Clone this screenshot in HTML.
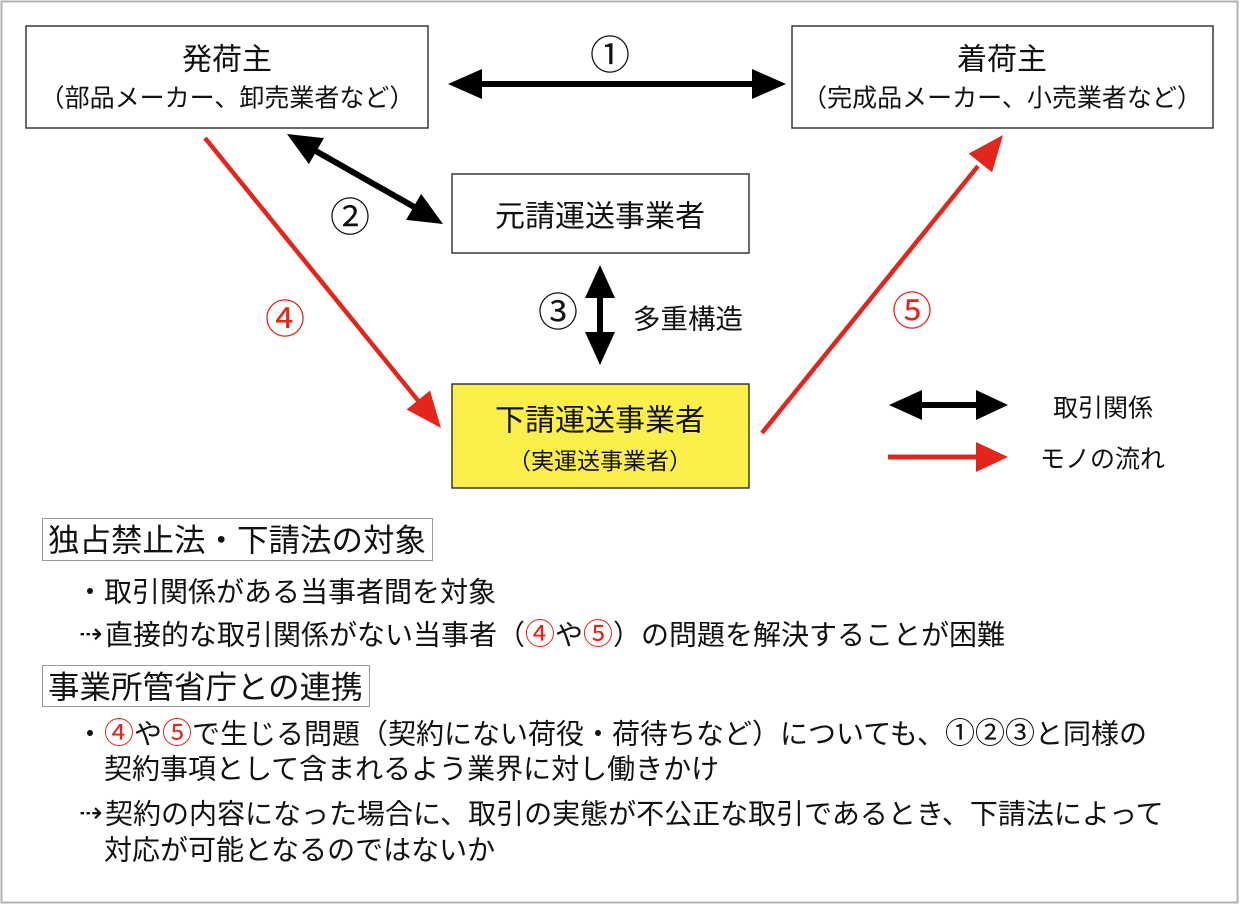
<!DOCTYPE html>
<html><head><meta charset="utf-8">
<style>
html,body{margin:0;padding:0;background:#fff;}
svg{display:block;}
text{font-family:"Liberation Sans","Noto Sans CJK JP",sans-serif;fill:#111;}
.r{fill:#e3261b;}
</style></head>
<body>
<svg width="1240" height="905" viewBox="0 0 1240 905" xmlns="http://www.w3.org/2000/svg">
<rect x="0" y="0" width="1240" height="905" fill="#fff"/>
<rect x="1.5" y="1.5" width="1236" height="901" fill="none" stroke="#b3b3b3" stroke-width="2"/>

<!-- boxes -->
<rect x="26" y="26" width="402" height="102" fill="#fff" stroke="#2a2a2a" stroke-width="1.4"/>
<rect x="792" y="26" width="421" height="102" fill="#fff" stroke="#2a2a2a" stroke-width="1.4"/>
<rect x="452" y="174" width="297" height="79" fill="#fff" stroke="#2a2a2a" stroke-width="1.4"/>
<rect x="452" y="384" width="297" height="104" fill="#fcef4b" stroke="#2a2a2a" stroke-width="1.4"/>

<!-- arrow 1 -->
<line x1="480" y1="84" x2="754" y2="84" stroke="#000" stroke-width="6"/>
<polygon points="448,84 482,69 482,99" fill="#000"/>
<polygon points="786,84 752,69 752,99" fill="#000"/>

<!-- arrow 2 -->
<line x1="314" y1="150" x2="416" y2="208" stroke="#000" stroke-width="6"/>
<polygon points="287,134 308.9,164.1 323.9,138.1" fill="#000"/>
<polygon points="443,224 406.1,219.9 421.1,193.9" fill="#000"/>

<!-- arrow 3 -->
<line x1="600" y1="295" x2="600" y2="335" stroke="#000" stroke-width="6"/>
<polygon points="600,265 585,298 615,298" fill="#000"/>
<polygon points="600,365 585,332 615,332" fill="#000"/>

<!-- red arrow 4 -->
<line x1="205" y1="138" x2="420" y2="403" stroke="#e3261b" stroke-width="4.5"/>
<polygon points="441,428 406.6,409.5 430,390.5" fill="#e3261b"/>

<!-- red arrow 5 -->
<line x1="762" y1="433" x2="978" y2="166" stroke="#e3261b" stroke-width="4.5"/>
<polygon points="1003,135 992.1,172.4 968.7,153.6" fill="#e3261b"/>

<!-- legend -->
<line x1="918" y1="405" x2="980" y2="405" stroke="#000" stroke-width="6"/>
<polygon points="889,405 922,390 922,420" fill="#000"/>
<polygon points="1008,405 976,390 976,420" fill="#000"/>
<line x1="888" y1="457" x2="980" y2="457" stroke="#e3261b" stroke-width="5"/>
<polygon points="1008,457 976,442 976,472" fill="#e3261b"/>

<!-- diagram text -->
<text x="227" y="69.4" font-size="30" text-anchor="middle">発荷主</text>
<text x="227" y="106.5" font-size="25" text-anchor="middle">（部品メーカー、卸売業者など）</text>
<text x="1002" y="69.4" font-size="30" text-anchor="middle">着荷主</text>
<text x="1002" y="106.5" font-size="25" text-anchor="middle">（完成品メーカー、小売業者など）</text>
<text x="610" y="69" font-size="40" text-anchor="middle">①</text>
<text x="350" y="231" font-size="40" text-anchor="middle">②</text>
<text x="600" y="226.4" font-size="30" text-anchor="middle">元請運送事業者</text>
<text x="558" y="326" font-size="40" text-anchor="middle">③</text>
<text x="633" y="328.5" font-size="27.5">多重構造</text>
<text x="285" y="333" font-size="40" text-anchor="middle" class="r">④</text>
<text x="912" y="325" font-size="40" text-anchor="middle" class="r">⑤</text>
<text x="600" y="430.4" font-size="30" text-anchor="middle">下請運送事業者</text>
<text x="600" y="468.8" font-size="23" text-anchor="middle">（実運送事業者）</text>
<text x="1053" y="416.5" font-size="25">取引関係</text>
<text x="1040" y="467.5" font-size="25">モノの流れ</text>

<!-- lower section -->
<rect x="42.5" y="518.5" width="390" height="42" fill="#fff" stroke="#999" stroke-width="1"/>
<text x="48" y="551" font-size="31.5">独占禁止法・下請法の対象</text>
<text x="76" y="601.6" font-size="28">・取引関係がある当事者間を対象</text>
<text x="79" y="643" font-size="28" style="font-family:'DejaVu Sans',sans-serif">⇢</text>
<text x="105" y="644.6" font-size="28">直接的な取引関係がない当事者（<tspan class="r" font-size="30">④</tspan>や<tspan class="r" font-size="30">⑤</tspan>）の問題を解決することが困難</text>

<rect x="42.5" y="665.5" width="327" height="41" fill="#fff" stroke="#999" stroke-width="1"/>
<text x="48" y="698" font-size="31.5">事業所管省庁との連携</text>
<text x="76" y="743.6" font-size="28">・<tspan class="r" font-size="30">④</tspan>や<tspan class="r" font-size="30">⑤</tspan>で生じる問題（契約にない荷役・荷待ちなど）についても、<tspan font-size="30">①②③</tspan>と同様の</text>
<text x="104" y="778.6" font-size="28">契約事項として含まれるよう業界に対し働きかけ</text>
<text x="79" y="822" font-size="28" style="font-family:'DejaVu Sans',sans-serif">⇢</text>
<text x="105" y="823.6" font-size="28">契約の内容になった場合に、取引の実態が不公正な取引であるとき、下請法によって</text>
<text x="104" y="859.6" font-size="28">対応が可能となるのではないか</text>
</svg>
</body></html>
